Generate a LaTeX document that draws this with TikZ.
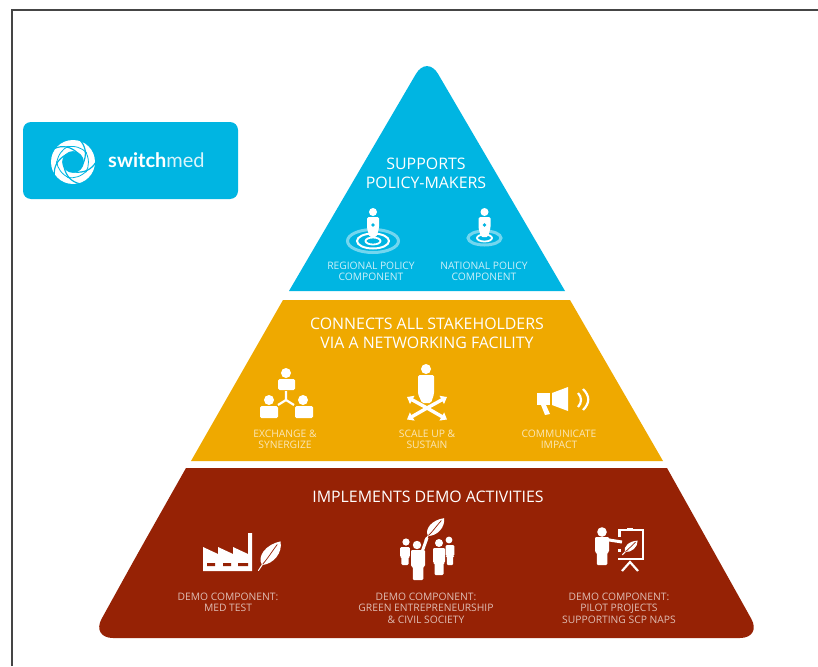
\documentclass[tikz,border=0pt]{standalone}
\usepackage{fontspec}
\setmainfont{Open Sans}
\newfontfamily\logofont{Lato}
\usetikzlibrary{arrows.meta}
\definecolor{cblue}{HTML}{00B5E2}
\definecolor{corange}{HTML}{EFA900}
\definecolor{cred}{HTML}{962205}
\definecolor{cframe}{HTML}{454545}
\tikzset{
  title/.style={text=white,inner sep=0pt,anchor=base,yshift=-5.7pt,font=\fontsize{15.9}{15.9}\selectfont},
  small/.style={inner sep=0pt,anchor=base,yshift=-3.7pt,font=\fontsize{10.3}{10.3}\selectfont},
  xarrow/.style={white,line width=3.4pt,-{Triangle[width=9pt,length=6pt]}},
}
\newcommand\pbody[4]{% cx, top, half width, bottom
  \fill[white,rounded corners=1.2pt]
    ({#1-#3},#2) -- ({#1+#3},#2) -- ({#1+#3},{#2+0.55*(#4-#2)})
    -- ({#1+0.75*#3},{#2+0.55*(#4-#2)}) -- ({#1+0.75*#3},#4)
    -- ({#1-0.75*#3},#4) -- ({#1-0.75*#3},{#2+0.55*(#4-#2)})
    -- ({#1-#3},{#2+0.55*(#4-#2)}) -- cycle;}
\newcommand\myleaf[5]{% x, y, angle, length, vein colour
  \begin{scope}[shift={(#1,#2)},rotate=#3,scale=#4]
    \fill[white] (0,0) .. controls (0.12,-0.32) and (0.62,-0.32) .. (1,0)
      .. controls (0.75,0.30) and (0.25,0.28) .. (0,0) -- cycle;
    \draw[#5,line width=0.7pt] (0.02,0) .. controls (0.3,0.02) and (0.6,-0.02) .. (0.85,-0.02);
    \draw[white,line width=1pt,line cap=round] (0.02,0) -- (-0.22,0.02);
  \end{scope}}
\newcommand\focus[6]{% x, head y, body top, ring centre y, outer rx, outer ry
  \fill[white] (#1,#2) circle (4);
  \fill[white,rounded corners=1.5pt] ({#1-6},#3) -- ({#1+6},#3) -- ({#1+6},{#3+11})
    -- ({#1+3.5},{#3+20}) -- ({#1-3.5},{#3+20}) -- ({#1-6},{#3+11}) -- cycle;
  \fill[cblue] (#1,{#3+8}) circle (1.8);
  \draw[white,opacity=.45,line width=3pt] (#1,#4) ellipse ({#5-1.5} and {#6-1.5});
  \draw[white,line width=1.8pt] (#1,#4) ellipse (7.5 and 3.5);}
\begin{document}
\begin{tikzpicture}[x=1pt,y=-1pt]
\useasboundingbox (0,0) rectangle (818,666);
% frame
\fill[white] (0,0) rectangle (818,666);
\draw[cframe,line width=2pt] (12,666) -- (12,10) -- (818,10);
% logo
\fill[cblue,rounded corners=8pt] (23,122) rectangle (238,199);
\begin{scope}[shift={(73,162)}]
  \fill[white,even odd rule] (0,0) circle (22) (0,0) circle (11);
  \foreach \a in {0,72,144,216,288}{
    \draw[cblue,line width=1.2pt] (\a:23) .. controls (\a+22:20) and (\a+45:16) .. (\a+85:10);
    \draw[cblue,line width=0.8pt] (\a+30:16.5) .. controls (\a+60:16.8) and (\a+85:16.8) .. (\a+110:16.5);
  }
\end{scope}
\node[inner sep=0pt,anchor=west,text=white,font=\logofont\fontsize{20}{20}\selectfont] (logotext) at (108,160) {\textbf{switch}\textcolor{white!85!cblue}{med}};
% tiers
\fill[cblue] (289,291) [rounded corners=22pt] -- (427,55) -- (496,173) [sharp corners] -- (565,291) -- cycle;
\fill[corange] (283,300) -- (570,300) -- (663,461) -- (191,461) -- cycle;
\fill[cred] (426,638) [rounded corners=22pt] -- (91,638) -- (138,553) [sharp corners] -- (186,468) -- (667,468) -- (700,527) [rounded corners=22pt] -- (762,638) -- cycle;
% tier 1 text
\node[title] (t1a) at (426,164) {SUPPORTS};
\node[title] (t1b) at (426,183) {POLICY-MAKERS};
\node[small,text=white!80!cblue] (r1) at (371,266) {REGIONAL POLICY};
\node[small,text=white!80!cblue] (r2) at (371,277) {COMPONENT};
\node[small,text=white!80!cblue] (n1) at (484,266) {NATIONAL POLICY};
\node[small,text=white!80!cblue] (n2) at (484,277) {COMPONENT};
\focus{373}{212}{217}{241}{27}{13}
\draw[white,line width=2pt] (373,241) ellipse (16 and 7.5);
\focus{484.5}{212}{217}{238}{18}{8.5}
% tier 2 text
\node[title] (t2a) at (427,324) {CONNECTS ALL STAKEHOLDERS};
\node[title] (t2b) at (427,343) {VIA A NETWORKING FACILITY};
\node[small,text=white!72!corange] (e1) at (285,434) {EXCHANGE \&};
\node[small,text=white!72!corange] (e2) at (285,445) {SYNERGIZE};
\node[small,text=white!72!corange] (s1) at (427,434) {SCALE UP \&};
\node[small,text=white!72!corange] (s2) at (427,445) {SUSTAIN};
\node[small,text=white!72!corange] (c1) at (559,434) {COMMUNICATE};
\node[small,text=white!72!corange] (c2) at (559,445) {IMPACT};
% exchange icon
\fill[white] (286,373) circle (5);
\fill[white,rounded corners=1.5pt] (278,379) rectangle (295,390);
\fill[white] (269,400) circle (5);
\fill[white,rounded corners=1.5pt] (260,406) rectangle (278,418);
\fill[white] (303,400) circle (5);
\fill[white,rounded corners=1.5pt] (295,406) rectangle (313,418);
\draw[white,line width=2.2pt] (286,391) -- (286,400) -- (278,405) (286,400) -- (294,405);
% scale up icon
\fill[white] (426,369) circle (5);
\fill[white,rounded corners=1.5pt] (418,375) -- (434,375) -- (434,394) -- (431,403) -- (422,403) -- (418,394) -- cycle;
\draw[xarrow] (427,408) -- (407,397);
\draw[xarrow] (427,408) -- (447,397);
\draw[xarrow] (427,408) -- (407,419.5);
\draw[xarrow] (427,408) -- (447,419.5);
% megaphone
\fill[white] (537,393) rectangle (550,405);
\fill[white] (552,393) -- (568,387) -- (568,411) -- (552,405) -- cycle;
\fill[white] (541,405) -- (546,405) -- (550,414) -- (545,415) -- cycle;
\draw[white,line width=2.2pt] (578,393) .. controls (582,397) and (582,403) .. (578,407);
\draw[white,line width=2.2pt] (583,389) .. controls (590,396) and (590,403) .. (583,410);
% tier 3 text
\node[title] (t3) at (428,497) {IMPLEMENTS DEMO ACTIVITIES};
\node[small,text=white!70!cred] (d1) at (228,597) {DEMO COMPONENT:};
\node[small,text=white!70!cred] (d2) at (228,608) {MED TEST};
\node[small,text=white!70!cred] (g1) at (426,597) {DEMO COMPONENT:};
\node[small,text=white!70!cred] (g2) at (426,608) {GREEN ENTREPRENEURSHIP};
\node[small,text=white!70!cred] (g3) at (426,620) {\& CIVIL SOCIETY};
\node[small,text=white!70!cred] (p1) at (619,597) {DEMO COMPONENT:};
\node[small,text=white!70!cred] (p2) at (619,608) {PILOT PROJECTS};
\node[small,text=white!70!cred] (p3) at (619,620) {SUPPORTING SCP NAPS};
% factory
\fill[white] (203,547) -- (218,554) -- (218,547) -- (233,554) -- (233,547) -- (248,554) -- (248,533) -- (252,533) -- (252,571) -- (203,571) -- cycle;
\fill[cred] (207,563) rectangle (215,566) (223,563) rectangle (231,566) (238,563) rectangle (248,566);
\myleaf{262}{565}{52}{30}{cred}
% group
\fill[white] (406,542) circle (3.6);
\pbody{405}{547}{4.8}{565}
\fill[white] (417,545) circle (4.2);
\pbody{418}{550}{7}{580}
\draw[white,line width=3pt,line cap=round] (422,552) -- (427,538);
\myleaf{428}{536}{48}{24}{cred}
\fill[white] (439,543) circle (4);
\pbody{439}{548}{6}{575}
\fill[white] (449,540) circle (3.4);
\pbody{450}{545}{4.3}{565}
% presenter
\fill[white] (602,532) circle (4.8);
\pbody{602}{537}{7}{565}
\draw[white,line width=3pt] (606,539.5) -- (622,542);
\draw[white,line width=2.4pt] (619.5,537) -- (619.5,530) -- (643,530) -- (643,559) -- (618,559);
\draw[white,line width=2.4pt] (619.5,549) -- (619.5,552);
\fill[white] (627,528) rectangle (633,531);
\draw[white,line width=2.2pt] (622,571) -- (630,562) -- (638,571);
\myleaf{625}{552}{42}{17}{cred}
\end{tikzpicture}
\end{document}
